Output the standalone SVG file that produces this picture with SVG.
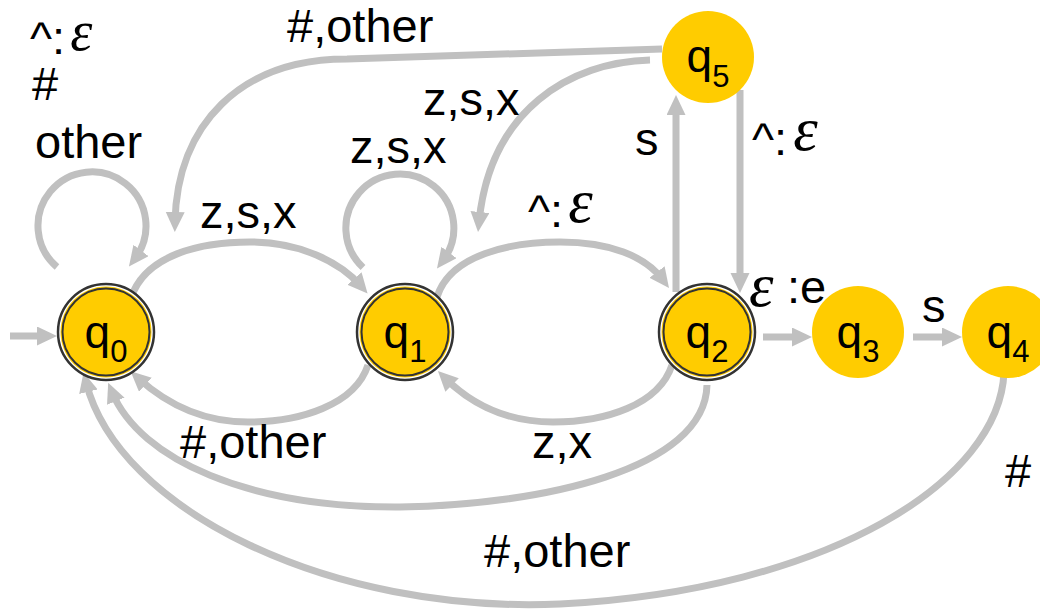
<svg xmlns="http://www.w3.org/2000/svg" width="1040" height="612" viewBox="0 0 1040 612">
<style>
.e{fill:none;stroke:#c0c0c0;stroke-width:7;marker-end:url(#ah)}
.t{font-family:"Liberation Sans",Arial,sans-serif;font-size:47px;fill:#000}
.eps{font-family:"Liberation Serif","Times New Roman",serif;font-style:italic;font-size:62px}
.eps2{font-size:56px}
.q{font-family:"Liberation Sans",Arial,sans-serif;font-size:46px;fill:#000;text-anchor:middle}
.sub{font-size:31px}
.ring{fill:#fff;stroke:#333;stroke-width:2.5}
.fill{fill:#ffcc00}
.in{fill:#ffcc00;stroke:#333;stroke-width:2}
</style>
<defs>
<marker id="ah" markerUnits="userSpaceOnUse" markerWidth="22" markerHeight="22" refX="10" refY="9.5" orient="auto">
<path d="M0,0 L20,9.5 L0,19 z" fill="#c0c0c0"/>
</marker>
</defs>
<g id="connectors">
<path class="e" d="M10,336 L47,336"/>
<path class="e" d="M57,267 A54,54 0 1 1 135,258.5"/>
<path class="e" d="M363,267.5 A54,54 0 1 1 443,260.5"/>
<path class="e" d="M131,298 C145,255 200,242 250,242 C300,242 340,262 361,286"/>
<path class="e" d="M437,297 C450,255 510,242 560,242 C610,242 645,256 663,280"/>
<path class="e" d="M676,292 L676,105"/>
<path class="e" d="M740,90 L740,283"/>
<path class="e" d="M662,49 L347,59 C240,59 177,125 175,222"/>
<path class="e" d="M650,60 C570,62 490,110 479,222"/>
<path class="e" d="M368,365 C355,405 300,422 248,422 C195,422 160,398 138,378"/>
<path class="e" d="M672,365 C659,405 605,422 553,422 C500,422 465,398 445,378"/>
<path class="e" d="M707,385 C705,470 540,505 400,507 C250,508 140,460 112,392"/>
<path class="e" d="M1004,372 C1000,480 830,590 560,604 C330,614 118,510 86,382"/>
<path class="e" d="M763,337 L802,337"/>
<path class="e" d="M913,337 L952,337"/>
</g>
<g id="labels">
<text class="t" x="30" y="54">^:<tspan class="eps eps2" dx="5" dy="-4">ε</tspan></text>
<text class="t" x="32" y="100">#</text>
<text class="t" x="35" y="158">other</text>
<text class="t" x="287" y="42">#,other</text>
<text class="t" x="423" y="115">z,s,x</text>
<text class="t" x="350" y="163">z,s,x</text>
<text class="t" x="635" y="155">s</text>
<text class="t" x="200" y="228">z,s,x</text>
<text class="t" x="528" y="227">^:<tspan class="eps" dx="5" dy="-5">ε</tspan></text>
<text class="t" x="752" y="155">^:<tspan class="eps" dx="6" dy="-5">ε</tspan></text>
<text class="t" x="749" y="306"><tspan class="eps">ε</tspan><tspan x="787" y="303">:e</tspan></text>
<text class="t" x="922" y="322">s</text>
<text class="t" x="180" y="458">#,other</text>
<text class="t" x="532" y="458">z,x</text>
<text class="t" x="1005" y="487">#</text>
<text class="t" x="484" y="567">#,other</text>
</g>
<g id="q0">
<circle class="ring" cx="106" cy="332" r="48"/>
<circle class="fill" cx="106" cy="332" r="45.5"/>
<circle class="in" cx="106" cy="332" r="43.5"/>
<text class="q" x="106" y="348">q<tspan class="sub" dy="14">0</tspan></text>
</g>
<g id="q1">
<circle class="ring" cx="405" cy="332" r="48"/>
<circle class="fill" cx="405" cy="332" r="45.5"/>
<circle class="in" cx="405" cy="332" r="43.5"/>
<text class="q" x="405" y="348">q<tspan class="sub" dy="14">1</tspan></text>
</g>
<g id="q2">
<circle class="ring" cx="707" cy="332" r="48"/>
<circle class="fill" cx="707" cy="332" r="45.5"/>
<circle class="in" cx="707" cy="332" r="43.5"/>
<text class="q" x="707" y="348">q<tspan class="sub" dy="14">2</tspan></text>
</g>
<g id="q3">
<circle class="fill" cx="858" cy="332" r="46"/>
<text class="q" x="858" y="348">q<tspan class="sub" dy="14">3</tspan></text>
</g>
<g id="q4">
<circle class="fill" cx="1008" cy="332" r="46"/>
<text class="q" x="1008" y="348">q<tspan class="sub" dy="14">4</tspan></text>
</g>
<g id="q5">
<circle class="fill" cx="708" cy="57" r="46"/>
<text class="q" x="708" y="72">q<tspan class="sub" dy="15">5</tspan></text>
</g>
</svg>
